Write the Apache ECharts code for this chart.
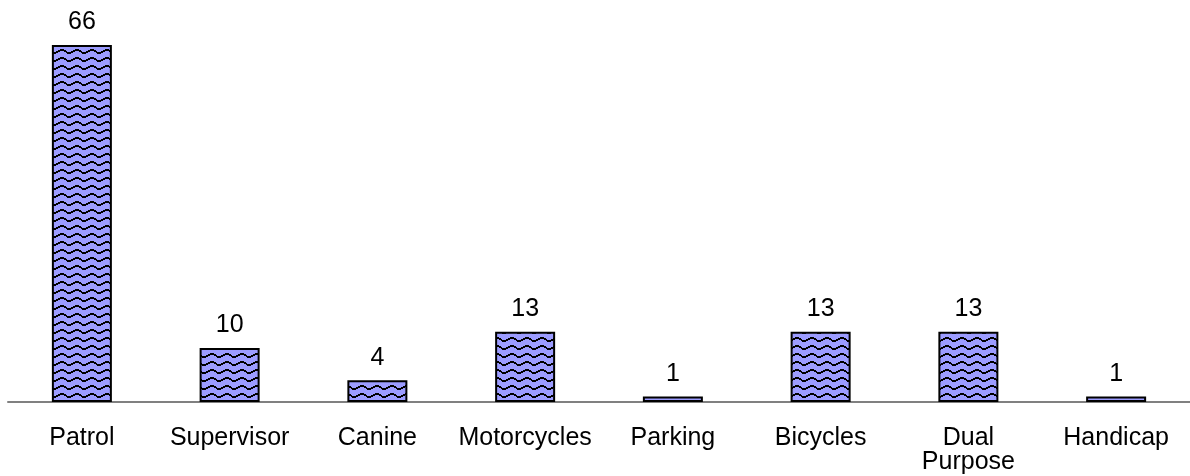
<!DOCTYPE html>
<html>
<head>
<meta charset="utf-8">
<script src="https://cdn.jsdelivr.net/npm/echarts@6/dist/echarts.min.js"></script>
<style>
  html, body { margin: 0; padding: 0; background: #fff; }
  #chart { width: 1190px; height: 476px; }
</style>
</head>
<body>
<div id="chart"></div>
<script>
const categories = ['Patrol', 'Supervisor', 'Canine', 'Motorcycles', 'Parking', 'Bicycles', 'Dual\nPurpose', 'Handicap']
const counts = [66, 10, 4, 13, 1, 13, 13, 1]

// wavy hatch like the old spreadsheet fill
function makeWave() {
  const c = document.createElement('canvas')
  c.width = 15; c.height = 8
  const ctx = c.getContext('2d')
  ctx.fillStyle = '#9c9cff'
  ctx.fillRect(0, 0, 15, 8)
  ctx.fillStyle = '#000'
  const ys = [0, 0, 0, 0, 1, 1, 2, 3, 3, 3, 3, 2, 2, 1, 1]
  ys.forEach((y, x) => ctx.fillRect(x, y + 1, 1, 2))
  return c
}

const chart = echarts.init(document.getElementById('chart'))
chart.setOption({
  animation: false,
  grid: { left: 8, right: 0, top: 45, bottom: 74 },
  xAxis: {
    type: 'category',
    data: categories,
    axisTick: { show: false },
    axisLine: { lineStyle: { color: '#808080', width: 2 } },
    axisLabel: {
      color: '#000', fontSize: 25, fontFamily: 'Liberation Sans, Arial, sans-serif',
      margin: 24, lineHeight: 24, interval: 0
    }
  },
  yAxis: { type: 'value', min: 0, max: 66, show: false, splitLine: { show: false } },
  series: [{
    type: 'bar',
    data: counts,
    barWidth: 60,
    itemStyle: {
      color: { image: makeWave(), repeat: 'repeat' },
      borderColor: '#000',
      borderWidth: 2
    },
    label: {
      show: true, position: 'top', distance: 10,
      color: '#000', fontSize: 25, fontFamily: 'Liberation Sans, Arial, sans-serif'
    }
  }]
})
</script>
</body>
</html>
